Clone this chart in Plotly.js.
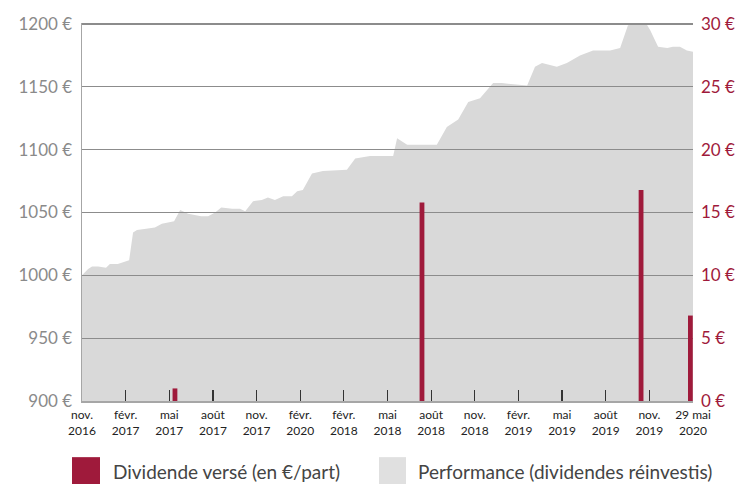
<!DOCTYPE html>
<html>
<head>
<meta charset="utf-8">
<script src="https://cdn.plot.ly/plotly-3.0.1.min.js"></script>
<style>html,body{margin:0;padding:0;background:#fff;}#chart{width:740px;height:484px;}</style>
</head>
<body>
<div id="chart"></div>
<script>
// Tick labels (category positions 0..14)
const tickLabels = ["nov.<br>2016","févr.<br>2017","mai<br>2017","août<br>2017","nov.<br>2017","févr.<br>2020","févr.<br>2018","mai<br>2018","août<br>2018","nov.<br>2018","févr.<br>2019","mai<br>2019","août<br>2019","nov.<br>2019","29 mai<br>2020"];
const tickPos = [0,1,2,3,4,5,6,7,8,9,10,11,12,13,14];
const innerTickPos = [1,2,3,4,5,6,7,8,9,10,11,12,13];

// Performance (dividendes réinvestis), position on the period scale and value in €
const perfX = [0.00,0.14,0.23,0.37,0.55,0.64,0.82,0.99,1.08,1.17,1.26,1.47,1.67,1.83,1.97,2.11,2.25,2.43,2.73,2.89,3.05,3.19,3.44,3.62,3.74,3.92,4.12,4.26,4.42,4.61,4.81,4.93,5.06,5.27,5.52,6.07,6.26,6.60,7.13,7.22,7.45,8.13,8.36,8.62,8.85,9.12,9.42,9.62,10.20,10.38,10.54,10.88,11.11,11.41,11.71,12.10,12.33,12.51,12.79,12.90,13.02,13.20,13.41,13.54,13.70,13.86,14.00];
const perfY = [1000,1005,1007,1007,1006,1009,1009,1011,1012,1034,1036,1037,1038,1041,1042,1043,1052,1049,1047,1047,1050,1054,1053,1053,1051,1059,1060,1062,1060,1063,1063,1067,1068,1081,1083,1084,1093,1095,1095,1109,1104,1104,1118,1124,1138,1141,1153,1153,1151,1166,1169,1166,1169,1175,1179,1179,1181,1199,1200,1202,1195,1182,1181,1182,1182,1179,1178];

// Dividende versé (en €/part)
const divX = [2.13, 7.79, 12.81, 13.94];
const divY = [1.0, 15.8, 16.8, 6.8];

const RED = "#9f1a3b";
const GREY = "#d9d9d9";

const traces = [
  {
    type: "scatter", mode: "lines", x: perfX, y: perfY,
    xaxis: "x", yaxis: "y",
    fill: "tozeroy", fillcolor: GREY, line: {width: 0, color: GREY},
    name: "Performance (dividendes réinvestis)", hoverinfo: "skip", showlegend: false
  },
  {
    type: "bar", x: divX, y: divY, width: 0.11,
    xaxis: "x2", yaxis: "y2",
    marker: {color: RED, line: {width: 0}},
    name: "Dividende versé (en €/part)", showlegend: false
  }
];

const px = v => (v - 82) / 611;
const py = v => (401 - v) / 377;

const layout = {
  width: 740, height: 484,
  margin: {l: 82, r: 47, t: 23, b: 83},
  paper_bgcolor: "#fff", plot_bgcolor: "rgba(0,0,0,0)",
  showlegend: false,
  font: {family: "Lato, 'Open Sans', sans-serif"},
  xaxis: {
    domain: [0, 1], range: [0, 14], tickmode: "array", tickvals: tickPos, ticktext: tickLabels,
    showgrid: false, zeroline: false, ticks: "", showline: true, linecolor: "#a6a6a6", linewidth: 1.5,
    ticklabelstandoff: 2,
    tickfont: {family: "'Liberation Sans Narrow', Lato, sans-serif", size: 12, color: "#222"},
    fixedrange: true
  },
  yaxis: {
    domain: [0, 1], range: [900, 1200.8], dtick: 50, tick0: 900, ticksuffix: " €",
    showgrid: false, zeroline: false, showline: true, linecolor: "#a6a6a6", linewidth: 1.5,
    ticks: "", ticklabelstandoff: 5,
    tickfont: {size: 17, color: "#8a8a8a"}, fixedrange: true
  },
  xaxis2: {
    domain: [0, 1], range: [0, 14], anchor: "y2", tickmode: "array", tickvals: innerTickPos,
    showticklabels: false, ticks: "inside", ticklen: 11, tickwidth: 1.2, tickcolor: "#333",
    showgrid: false, zeroline: false, showline: false, fixedrange: true
  },
  yaxis2: {
    domain: [0, 1], range: [0, 30.08], anchor: "x2", side: "right", dtick: 5, tick0: 0, ticksuffix: " €",
    showgrid: true, gridcolor: "#8c8c8c", gridwidth: 1.3, zeroline: false, showline: false,
    ticks: "", ticklabelstandoff: 7,
    tickfont: {size: 17, color: RED}, fixedrange: true
  },
  shapes: [
    {type: "rect", xref: "paper", yref: "paper", x0: px(72), x1: px(100), y0: py(457), y1: py(484), fillcolor: RED, line: {width: 0}},
    {type: "rect", xref: "paper", yref: "paper", x0: px(379), x1: px(406), y0: py(457), y1: py(484), fillcolor: "#e0e0e0", line: {width: 0}}
  ],
  annotations: [
    {xref: "paper", yref: "paper", x: px(111), y: py(471), xanchor: "left", yanchor: "middle", showarrow: false,
     text: "Dividende versé (en €/part)", font: {size: 19, color: "#444"}},
    {xref: "paper", yref: "paper", x: px(416), y: py(471), xanchor: "left", yanchor: "middle", showarrow: false,
     text: "Performance (dividendes réinvestis)", font: {size: 19, color: "#444"}}
  ]
};

Plotly.newPlot("chart", traces, layout, {displayModeBar: false, staticPlot: true});
</script>
</body>
</html>
